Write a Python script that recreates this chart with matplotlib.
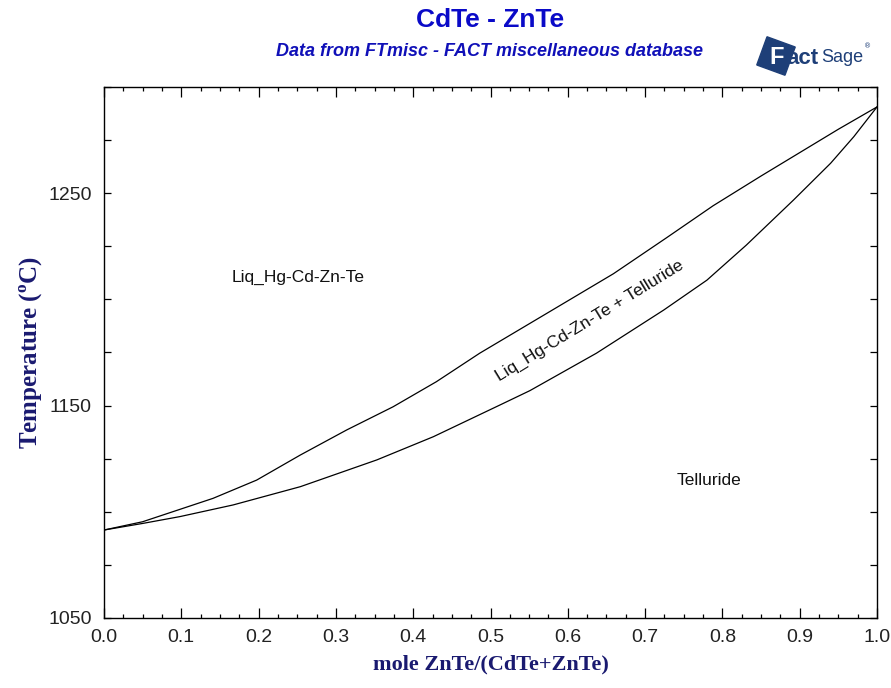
import matplotlib
matplotlib.use("Agg")
import matplotlib.pyplot as plt
from matplotlib.ticker import MultipleLocator
from matplotlib.patches import Polygon
import numpy as np

# Data
liq_x = [0.0, 0.05, 0.141, 0.1975, 0.254, 0.314, 0.374, 0.430, 0.486, 0.573,
         0.659, 0.728, 0.788, 0.85, 0.90, 0.95, 1.0]
liq_T = [1091.4, 1095.3, 1106.3, 1114.9, 1126.7, 1138.5, 1149.4, 1161.2, 1174.6,
         1193.4, 1212.0, 1229.0, 1244.0, 1258.0, 1269.0, 1280.0, 1290.5]
sol_x = [0.0, 0.05, 0.098, 0.167, 0.254, 0.353, 0.426, 0.512, 0.551, 0.637,
         0.724, 0.780, 0.831, 0.892, 0.94, 0.97, 1.0]
sol_T = [1091.4, 1094.5, 1097.7, 1103.2, 1111.8, 1124.4, 1135.3, 1150.2, 1157.0,
         1174.6, 1194.9, 1209.0, 1225.5, 1246.7, 1264.0, 1276.5, 1290.5]

labels = [("Liq_Hg-Cd-Zn-Te", 0.251, 1210.5, 0),
          ("Liq_Hg-Cd-Zn-Te + Telluride", 0.628, 1190.0, 31.5),
          ("Telluride", 0.783, 1114.5, 0)]

xticks = [0.0, 0.1, 0.2, 0.3, 0.4, 0.5, 0.6, 0.7, 0.8, 0.9, 1.0]
yticks = [1050, 1150, 1250]

title = "CdTe - ZnTe"
subtitle = "Data from FTmisc - FACT miscellaneous database"
xlabel = "mole ZnTe/(CdTe+ZnTe)"
ylabel = "Temperature ($^{\\mathregular{o}}$C)"

W, H = 891, 688
fig = plt.figure(figsize=(W/100, H/100), dpi=100)
ax = fig.add_axes([104/W, 1-618/H, 773/W, (618-86.75)/H])

ax.plot(liq_x, liq_T, color="black", lw=0.9)
ax.plot(sol_x, sol_T, color="black", lw=0.9)

ax.set_xlim(0, 1)
ax.set_ylim(1050, 1300)

ax.set_xticks(xticks)
ax.set_xticklabels([f"{v:.1f}" for v in xticks])
ax.xaxis.set_minor_locator(MultipleLocator(0.025))
ax.set_yticks(yticks)
ax.set_yticklabels([str(v) for v in yticks])
ax.yaxis.set_minor_locator(MultipleLocator(25))

tickfont = ["Liberation Sans Narrow", "Liberation Sans", "DejaVu Sans"]
ax.tick_params(axis="both", which="both", direction="in", top=True, right=True,
               color="black", width=0.9)
ax.tick_params(axis="x", which="major", length=7, pad=8)
ax.tick_params(axis="x", which="minor", length=3)
ax.tick_params(axis="y", which="both", length=5, pad=9)
for lab in ax.get_xticklabels() + ax.get_yticklabels():
    lab.set_family(tickfont)
    lab.set_fontsize(14)
    lab.set_color("#222222")
for s in ax.spines.values():
    s.set_linewidth(1.0)

for txt, x, y, rot in labels:
    ax.text(x, y, txt, ha="center", va="center", rotation=rot,
            rotation_mode="anchor", fontsize=12.5,
            family=["Liberation Sans", "DejaVu Sans"], color="#111111")

ax.set_xlabel(xlabel, family=["Liberation Serif", "DejaVu Serif"], fontweight="bold",
              fontsize=16, color="#1a1a70", labelpad=6)
ax.set_ylabel(ylabel, family=["Liberation Serif", "DejaVu Serif"], fontweight="bold",
              fontsize=18, color="#1a1a70", labelpad=2)

fig.text(490/W, 1-20/H, title, ha="center", va="center", fontsize=19,
         fontweight="bold", color="#0a0ac8",
         family=["Liberation Sans Narrow", "Liberation Sans", "DejaVu Sans"])
fig.text(489/W, 1-51/H, subtitle, ha="center", va="center", fontsize=13,
         fontweight="bold", style="italic", color="#1010b8",
         family=["Liberation Sans Narrow", "Liberation Sans", "DejaVu Sans"])

# FactSage logo approximation
logo_col = "#1e3f78"
cx, cy, h, ang = 776, 56, 15, np.deg2rad(20)
corners = []
for dx, dy in [(-h, -h), (h, -h), (h, h), (-h, h)]:
    px = cx + dx*np.cos(ang) - dy*np.sin(ang)
    py = cy + dx*np.sin(ang) + dy*np.cos(ang)
    corners.append((px/W, 1-py/H))
fig.patches.append(Polygon(corners, closed=True, transform=fig.transFigure,
                           color=logo_col, zorder=1))
fig.text(777/W, 1-58/H, "F", ha="center", va="center", fontsize=17,
         fontweight="bold", color="white", zorder=2,
         family=["Liberation Sans", "DejaVu Sans"])
fig.text(786/W, 1-58/H, "act", ha="left", va="center", fontsize=16,
         fontweight="bold", color=logo_col, zorder=2,
         family=["Liberation Sans", "DejaVu Sans"])
fig.text(821/W, 1-58/H, "Sage", ha="left", va="center", fontsize=13,
         color=logo_col, zorder=2,
         family=["Liberation Sans Narrow", "Liberation Sans", "DejaVu Sans"])
fig.text(864/W, 1-46/H, "\u00ae", ha="left", va="center", fontsize=5,
         color=logo_col, zorder=2, family=["DejaVu Sans"])

fig.savefig("out.png", dpi=100, facecolor="white")
